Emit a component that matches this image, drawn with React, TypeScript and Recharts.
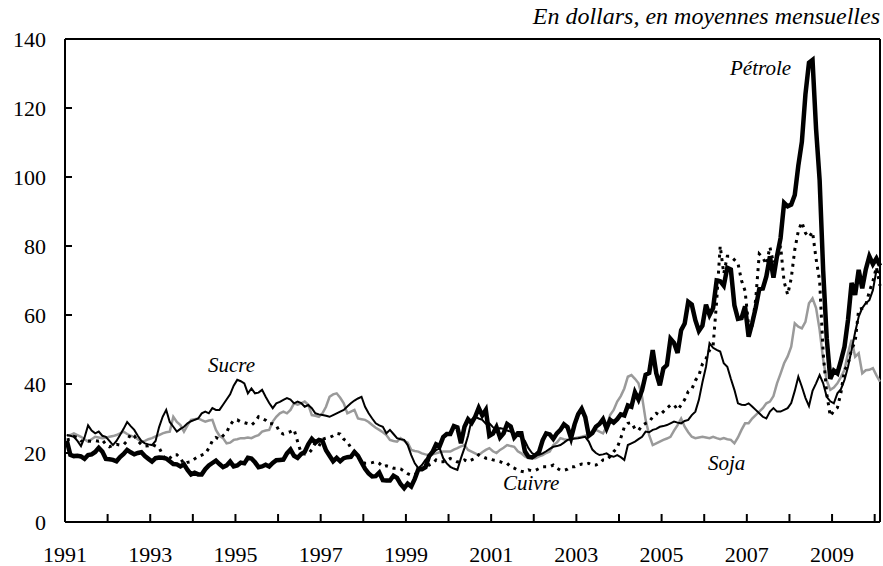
import { LineChart, Line, XAxis, YAxis, ReferenceLine } from "recharts";

// Monthly averages, Jan 1991 -> Feb 2010 (one row per year)
const petrole = [
  23.6, 19.5, 19.1, 19.2, 19.0, 18.3, 19.4, 19.6, 20.3, 21.5, 20.4, 18.3,
  18.2, 18.0, 17.6, 18.8, 19.7, 20.9, 20.2, 19.6, 20.0, 20.2, 19.1, 18.3,
  17.5, 18.5, 18.7, 18.6, 18.4, 17.6, 16.8, 16.7, 16.1, 16.7, 15.1, 13.8,
  14.3, 13.8, 13.8, 15.3, 16.4, 17.1, 17.8, 16.8, 15.9, 16.4, 17.5, 16.1,
  16.4, 17.2, 17.0, 18.6, 18.4, 17.3, 15.9, 16.1, 16.6, 16.1, 17.1, 17.9,
  18.0, 18.1, 19.9, 21.0, 19.2, 18.6, 19.7, 20.3, 22.5, 24.1, 23.0, 23.8,
  23.5, 20.8, 19.2, 17.6, 18.6, 17.6, 18.5, 18.8, 18.9, 20.3, 19.2, 17.3,
  15.4, 14.1, 13.2, 13.3, 14.3, 12.1, 12.0, 12.0, 13.4, 12.8, 11.0, 9.8,
  11.1, 10.3, 12.5, 15.3, 15.3, 15.9, 19.0, 20.3, 22.5, 22.0, 24.6, 25.5,
  25.5, 27.8, 27.4, 22.8, 27.6, 29.8, 28.7, 30.5, 33.1, 30.9, 32.5, 25.0,
  25.6, 27.5, 24.5, 25.7, 28.4, 27.7, 24.5, 25.7, 25.7, 20.5, 18.9, 18.7,
  19.4, 20.3, 23.7, 25.7, 25.4, 24.1, 25.7, 26.7, 28.3, 27.5, 24.3, 28.3,
  31.2, 32.8, 30.4, 25.0, 25.8, 27.6, 28.4, 29.8, 27.1, 29.6, 28.8, 29.8,
  31.2, 30.9, 33.8, 33.4, 37.6, 35.5, 38.2, 42.7, 43.2, 49.8, 43.1, 39.6,
  44.5, 45.5, 53.1, 51.9, 49.0, 55.6, 57.5, 63.8, 63.0, 58.5, 55.4, 56.9,
  63.0, 60.0, 62.0, 70.0, 69.8, 68.5, 73.7, 73.2, 62.8, 58.9, 59.1, 62.5,
  53.7, 57.6, 62.1, 67.5, 67.7, 71.2, 77.0, 70.8, 77.1, 82.3, 92.5, 91.5,
  92.0, 94.8, 103.3, 110.2, 123.9, 133.1, 133.9, 113.9, 99.1, 72.8, 53.2, 41.5,
  43.9, 43.1, 46.8, 50.8, 58.6, 69.3, 65.8, 73.1, 67.7, 73.2, 77.0, 74.7,
  76.4, 74.3,
];

const sucre = [
  25.2, 25.0, 24.7, 23.5, 22.0, 24.5, 28.0, 26.5, 25.7, 26.2, 25.0, 24.7,
  23.5, 22.3, 23.5, 25.2, 27.0, 29.0, 27.8, 26.7, 25.0, 23.5, 22.8, 22.5,
  22.3, 23.5, 27.5, 30.5, 32.5, 29.0, 27.6, 26.2, 27.0, 27.6, 28.6, 29.2,
  29.6, 30.0, 31.5, 32.0, 31.5, 33.0, 32.5, 32.5, 34.0, 35.5, 37.0, 39.5,
  41.2, 40.8, 40.2, 37.3, 38.7, 37.3, 37.5, 38.3, 36.3, 34.5, 33.0, 34.4,
  34.8, 35.4, 35.9, 35.5, 34.4, 34.9, 34.5, 33.4, 33.9, 33.0, 31.5, 31.2,
  31.0, 30.8, 30.5, 31.0, 31.5, 32.0, 32.5, 33.5, 34.4, 35.2, 35.8, 36.3,
  33.4, 31.5, 30.0, 28.6, 28.0, 27.6, 25.7, 26.7, 25.5, 24.3, 24.0, 23.8,
  22.3, 19.4, 17.0, 15.6, 16.5, 18.0, 19.0, 19.9, 20.8, 21.4, 18.5, 17.0,
  16.0, 15.5, 15.1, 18.5, 21.5, 25.0, 29.6, 30.5, 30.0, 29.6, 28.5, 28.6,
  27.5, 26.5, 27.2, 27.0, 26.5, 26.2, 25.5, 25.0, 24.7, 23.5, 21.4, 20.0,
  19.4, 19.5, 19.9, 20.5, 21.2, 21.8, 22.0, 22.3, 23.0, 23.8, 24.0, 24.2,
  24.3, 24.5, 24.7, 23.3, 21.0, 20.0, 19.4, 19.6, 19.9, 19.2, 18.9, 19.4,
  18.8, 18.0, 22.3, 22.8, 23.3, 24.0, 24.7, 26.2, 26.0, 26.7, 27.0, 27.6,
  27.8, 28.1, 28.6, 29.1, 28.8, 28.6, 29.3, 29.6, 31.0, 32.0, 35.4, 40.5,
  45.0, 51.8, 50.5, 49.9, 49.4, 46.0, 45.0, 41.5, 38.3, 34.4, 34.0, 33.9,
  34.4, 33.5, 32.5, 31.5, 30.5, 30.0, 32.0, 33.0, 32.0, 32.0, 32.5, 33.0,
  34.5, 38.0, 42.1, 39.2, 36.0, 33.6, 38.0, 40.2, 42.6, 40.2, 36.3, 35.0,
  34.4, 37.3, 38.5, 41.2, 45.0, 49.9, 55.0, 59.5, 62.0, 63.4, 64.3, 67.2,
  73.0, 72.0,
];

const soja = [
  25.0, 25.2, 25.7, 25.2, 24.7, 24.0, 23.3, 24.0, 24.7, 24.5, 24.3, 24.4,
  24.7, 24.9, 25.2, 25.7, 26.2, 25.5, 25.0, 24.7, 24.0, 23.3, 23.5, 24.0,
  24.3, 24.8, 25.2, 25.7, 26.0, 26.2, 30.5, 29.0, 28.1, 26.2, 28.0, 29.6,
  29.8, 30.0, 29.5, 29.1, 29.4, 29.6, 26.7, 25.0, 24.3, 22.8, 23.0, 23.8,
  24.0, 24.3, 24.3, 24.5, 24.3, 24.8, 25.2, 26.2, 26.5, 26.7, 29.1, 30.5,
  31.5, 32.0, 31.5, 32.5, 34.4, 34.0, 34.4, 34.9, 34.0, 31.0, 30.8, 30.5,
  31.5, 33.4, 36.3, 37.0, 37.3, 36.0, 34.4, 31.5, 32.0, 32.5, 30.0, 29.8,
  29.6, 29.0, 28.1, 27.3, 26.7, 26.0, 25.2, 23.8, 23.5, 23.3, 24.3, 23.5,
  23.0, 20.9, 20.6, 20.4, 19.9, 19.6, 19.4, 19.6, 19.9, 20.2, 20.4, 20.4,
  20.4, 21.0, 21.4, 21.9, 22.3, 20.9, 20.4, 19.9, 19.4, 20.2, 20.9, 21.4,
  20.5, 20.0, 20.9, 21.5, 22.3, 22.0, 21.8, 20.5, 19.9, 19.0, 18.5, 18.5,
  18.5, 19.0, 19.4, 20.0, 20.4, 22.3, 23.0, 24.3, 24.0, 23.8, 24.0, 24.3,
  24.5, 24.7, 25.0, 25.2, 26.0, 26.7, 26.2, 25.7, 27.6, 31.0, 32.5, 34.9,
  36.5, 38.7, 42.1, 42.6, 41.5, 40.2, 36.3, 29.6, 25.2, 22.3, 22.8, 23.3,
  23.8, 24.2, 24.7, 26.5, 28.1, 30.0, 27.6, 26.0, 24.7, 24.3, 24.5, 24.7,
  24.5, 24.3, 24.7, 24.3, 24.0, 24.3, 24.0, 23.8, 22.8, 24.5, 26.7, 28.6,
  28.6, 30.0, 31.0, 32.0, 33.0, 34.4, 34.9, 36.5, 40.2, 43.0, 46.0, 48.0,
  50.8, 57.6, 56.6, 56.1, 58.0, 63.4, 64.8, 62.0, 55.7, 47.0, 41.0, 38.3,
  39.0, 40.2, 42.0, 44.1, 49.0, 52.8, 47.9, 48.9, 43.1, 44.0, 44.1, 44.6,
  42.5, 40.7,
];

const cuivre = [
  23.8, 24.0, 24.8, 24.5, 23.5, 23.3, 23.5, 23.4, 23.6, 23.4, 23.8, 22.5,
  21.8, 22.2, 22.5, 22.3, 22.4, 23.5, 25.5, 25.0, 23.5, 22.5, 22.0, 22.1,
  22.5, 22.0, 21.5, 19.5, 18.0, 18.5, 19.5, 19.5, 18.5, 16.8, 17.3, 17.5,
  18.3, 19.0, 19.4, 19.8, 21.4, 23.5, 24.5, 24.0, 25.0, 26.0, 28.1, 29.5,
  29.6, 29.0, 28.8, 28.5, 28.1, 29.0, 30.5, 30.0, 29.5, 28.5, 28.5, 28.0,
  26.0, 25.5, 25.8, 26.2, 26.8, 23.3, 20.0, 19.7, 19.8, 21.0, 23.0, 22.0,
  24.0, 24.3, 24.5, 25.0, 25.7, 25.5, 24.0, 23.3, 21.5, 20.5, 19.0, 17.5,
  17.0, 17.0, 17.2, 17.5, 17.0, 16.0, 16.3, 16.0, 15.6, 15.6, 15.4, 14.7,
  14.0, 13.6, 13.8, 14.5, 15.3, 15.6, 16.5, 17.0, 18.0, 17.5, 17.5, 17.8,
  18.4, 18.0, 17.4, 17.5, 18.0, 17.5, 18.0, 18.5, 19.5, 19.0, 18.5, 18.5,
  18.0, 17.8, 17.5, 17.0, 17.0, 16.0, 15.6, 15.0, 14.7, 14.5, 15.1, 14.8,
  15.0, 15.5, 16.0, 16.0, 16.0, 16.5, 15.6, 15.0, 15.0, 15.3, 16.0, 16.0,
  16.5, 16.8, 16.6, 17.0, 16.5, 16.5, 17.0, 18.0, 18.0, 19.0, 20.4, 21.5,
  24.3, 27.5, 28.6, 28.8, 27.0, 26.5, 28.0, 28.6, 29.0, 30.5, 31.5, 31.0,
  32.0, 33.0, 33.9, 34.0, 32.5, 33.9, 35.5, 37.8, 38.5, 41.0, 42.5, 45.8,
  47.3, 49.8, 51.0, 64.0, 80.0, 72.0, 77.0, 77.0, 76.0, 75.0, 70.0, 67.0,
  57.0, 57.0, 64.5, 77.7, 76.6, 74.7, 79.7, 75.1, 76.5, 80.0, 69.6, 65.9,
  70.6, 78.9, 84.4, 86.9, 83.8, 82.6, 84.1, 76.3, 69.9, 49.0, 37.2, 30.7,
  32.2, 33.1, 37.5, 44.0, 45.7, 50.1, 52.2, 61.7, 61.9, 62.9, 66.8, 69.8,
  73.9, 68.5,
];

const yearTicks = [
  1991, 1992, 1993, 1994, 1995, 1996, 1997, 1998, 1999, 2000,
  2001, 2002, 2003, 2004, 2005, 2006, 2007, 2008, 2009, 2010,
];
const valueTicks = [0, 20, 40, 60, 80, 100, 120, 140];
const X_MAX = 2010.125;

// points sit mid-month
const data = petrole.map((p, i) => ({
  t: 1991 + (i + 0.5) / 12,
  petrole: p,
  sucre: sucre[i],
  soja: soja[i],
  cuivre: cuivre[i],
}));

const serif = '"Liberation Serif", "Times New Roman", Times, "DejaVu Serif", serif';
const axisText = { fontFamily: serif, fontSize: 22 };
const labelText = { fontFamily: serif, fontSize: 21, fontStyle: "italic" as const };
const titleText = { ...labelText, fontSize: 24 };

function YearTick({ x, y, payload }: any) {
  const yr = payload.value as number;
  return (
    <g>
      <line x1={x} y1={y} x2={x} y2={y - 8} stroke="#000" strokeWidth={2} />
      {yr % 2 === 1 && (
        <text x={x} y={y + 40} textAnchor="middle" fill="#000" style={axisText}>
          {yr}
        </text>
      )}
    </g>
  );
}

function ValueTick({ x, y, payload }: any) {
  return (
    <g>
      <line x1={x} y1={y} x2={x + 7} y2={y} stroke="#000" strokeWidth={2} />
      <text x={x - 19} y={y + 7.5} textAnchor="end" fill="#000" style={axisText}>
        {payload.value}
      </text>
    </g>
  );
}

export default function App() {
  return (
    <div style={{ position: "absolute", left: 0, top: 0, width: 883, height: 566, background: "#fff" }}>
      <LineChart width={883} height={566} data={data} margin={{ top: 39, right: 3, bottom: 0, left: 0 }}>
        <XAxis
          dataKey="t"
          type="number"
          domain={[1991, X_MAX]}
          ticks={yearTicks}
          interval={0}
          height={44}
          tickSize={0}
          tickMargin={0}
          tick={<YearTick />}
          axisLine={{ stroke: "#000", strokeWidth: 2 }}
          tickLine={false}
        />
        <YAxis
          domain={[0, 140]}
          ticks={valueTicks}
          interval={0}
          width={65}
          tickSize={0}
          tickMargin={0}
          tick={<ValueTick />}
          axisLine={{ stroke: "#000", strokeWidth: 2 }}
          tickLine={false}
        />
        <ReferenceLine y={140} stroke="#000" strokeWidth={2} />
        <ReferenceLine x={X_MAX} stroke="#000" strokeWidth={2} />
        <Line type="linear" dataKey="soja" stroke="#9a9a9a" strokeWidth={2.5} dot={false} isAnimationActive={false} />
        <Line type="linear" dataKey="cuivre" stroke="#000" strokeWidth={3} strokeDasharray="3 5" dot={false} isAnimationActive={false} />
        <Line type="linear" dataKey="sucre" stroke="#000" strokeWidth={2} dot={false} isAnimationActive={false} />
        <Line type="linear" dataKey="petrole" stroke="#000" strokeWidth={4.5} dot={false} isAnimationActive={false} />
      </LineChart>
      <svg width={883} height={566} style={{ position: "absolute", left: 0, top: 0, pointerEvents: "none" }}>
        <text x={880} y={24} textAnchor="end" fill="#000" style={titleText}>En dollars, en moyennes mensuelles</text>
        <text x={730} y={75} fill="#000" style={labelText}>Pétrole</text>
        <text x={208} y={372} fill="#000" style={labelText}>Sucre</text>
        <text x={503} y={490} fill="#000" style={labelText}>Cuivre</text>
        <text x={708} y={470} fill="#000" style={labelText}>Soja</text>
      </svg>
    </div>
  );
}
